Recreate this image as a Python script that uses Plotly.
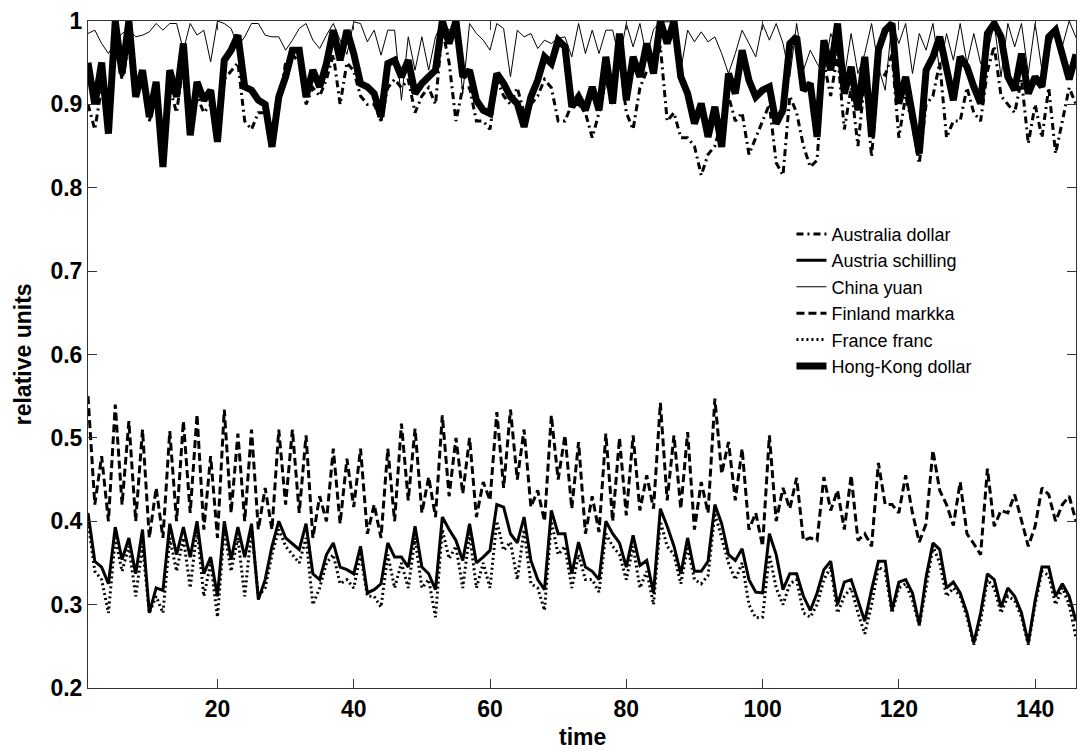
import plotly.graph_objects as go

time = list(range(1, 147))

australia_dollar = [
    0.90, 0.87, 0.92, 0.88, 0.97, 0.93, 0.97, 0.92, 0.93, 0.88,
    0.91, 0.85, 0.92, 0.89, 0.95, 0.87, 0.91, 0.89, 0.90, 0.86,
    0.93, 0.94, 0.95, 0.88, 0.87, 0.89, 0.89, 0.86, 0.90, 0.95,
    0.96, 0.95, 0.90, 0.92, 0.91, 0.93, 0.96, 0.90, 0.95, 0.94,
    0.91, 0.90, 0.90, 0.88, 0.92, 0.93, 0.92, 0.93, 0.89, 0.91,
    0.92, 0.90, 0.99, 0.95, 0.88, 0.92, 0.92, 0.88, 0.88, 0.87,
    0.93, 0.91, 0.90, 0.92, 0.89, 0.90, 0.91, 0.93, 0.92, 0.88,
    0.88, 0.90, 0.90, 0.89, 0.86, 0.89, 0.93, 0.90, 0.96, 0.89,
    0.87, 0.92, 0.94, 0.94, 0.97, 0.88, 0.89, 0.86, 0.86, 0.85,
    0.815, 0.84, 0.85, 0.88, 0.91, 0.88, 0.89, 0.84, 0.86, 0.88,
    0.90, 0.83, 0.815, 0.91, 0.89, 0.85, 0.825, 0.833, 0.95, 0.91,
    0.96, 0.87, 0.92, 0.85, 0.93, 0.837, 0.94, 0.935, 0.96, 0.86,
    0.91, 0.875, 0.829, 0.90, 0.91, 0.95, 0.86, 0.88, 0.88, 0.92,
    0.89, 0.88, 0.94, 0.97, 0.91, 0.90, 0.89, 0.93, 0.853, 0.90,
    0.86, 0.92, 0.841, 0.88, 0.92, 0.90,
]

austria_schilling = [
    0.41, 0.352, 0.345, 0.325, 0.393, 0.354, 0.38, 0.337, 0.39, 0.29,
    0.32, 0.317, 0.397, 0.36, 0.393, 0.357, 0.40, 0.337, 0.357, 0.31,
    0.40, 0.354, 0.393, 0.357, 0.397, 0.306, 0.33, 0.37, 0.40, 0.38,
    0.373, 0.366, 0.397, 0.337, 0.33, 0.36, 0.374, 0.345, 0.342, 0.337,
    0.37, 0.314, 0.318, 0.325, 0.374, 0.357, 0.357, 0.345, 0.394, 0.345,
    0.337, 0.318, 0.405, 0.39, 0.377, 0.353, 0.397, 0.35, 0.357, 0.365,
    0.42, 0.417, 0.385, 0.374, 0.405, 0.353, 0.33, 0.318, 0.413, 0.385,
    0.385, 0.337, 0.375, 0.345, 0.34, 0.33, 0.40, 0.385, 0.374, 0.345,
    0.383, 0.347, 0.353, 0.314, 0.415, 0.394, 0.37, 0.337, 0.38, 0.34,
    0.34, 0.352, 0.42, 0.397, 0.36, 0.353, 0.367, 0.33, 0.315, 0.314,
    0.385, 0.36, 0.318, 0.337, 0.337, 0.31, 0.293, 0.314, 0.342, 0.352,
    0.30, 0.327, 0.33, 0.305, 0.28, 0.318, 0.352, 0.352, 0.293, 0.327,
    0.33, 0.314, 0.276, 0.333, 0.374, 0.366, 0.32, 0.327, 0.314, 0.29,
    0.254, 0.29, 0.337, 0.33, 0.297, 0.32, 0.31, 0.29, 0.254, 0.305,
    0.345, 0.345, 0.31, 0.325, 0.31, 0.28,
]

china_yuan = [
    0.985, 0.989, 0.973, 0.961, 0.975, 0.985, 0.99, 0.981, 0.983, 0.987,
    0.997, 0.989, 0.997, 0.997, 0.965, 0.997, 0.983, 0.989, 0.951, 1.0,
    0.997, 0.991, 0.97, 0.981, 0.997, 0.997, 0.983, 0.981, 0.981, 0.965,
    0.977, 0.991, 0.997, 0.977, 0.967, 0.983, 0.997, 0.977, 0.96, 0.999,
    0.997, 0.975, 0.989, 0.959, 0.989, 0.989, 0.905, 0.981, 0.941, 0.981,
    0.941, 0.981, 0.999, 0.989, 0.999, 0.913, 0.997, 0.985, 0.977, 0.965,
    0.997, 0.991, 0.933, 0.989, 0.981, 0.985, 0.967, 0.977, 0.973, 0.979,
    0.981, 0.957, 0.997, 0.961, 0.989, 0.961, 0.989, 0.989, 0.953, 0.997,
    0.969, 0.997, 0.957, 0.99, 0.999, 0.999, 0.999, 0.941, 0.989, 0.975,
    0.987, 0.975, 0.981, 0.961, 0.937, 0.961, 0.989, 0.973, 0.957, 0.997,
    0.977, 0.997, 0.973, 0.933, 0.997, 0.941, 0.965, 0.949, 0.937, 0.985,
    0.965, 0.933, 0.985, 0.937, 0.961, 0.997, 0.945, 0.917, 0.999, 0.973,
    0.997, 0.937, 0.985, 0.965, 0.997, 0.941, 0.985, 0.953, 0.997, 0.949,
    0.985, 0.949, 0.961, 0.997, 0.933, 0.997, 0.969, 0.997, 0.937, 0.997,
    0.941, 0.965, 0.991, 0.97, 1.0, 0.98,
]

finland_markka = [
    0.55, 0.42, 0.478, 0.40, 0.54, 0.42, 0.52, 0.40, 0.51, 0.38,
    0.44, 0.38, 0.508, 0.40, 0.52, 0.41, 0.528, 0.39, 0.478, 0.38,
    0.534, 0.41, 0.505, 0.40, 0.51, 0.39, 0.44, 0.39, 0.51, 0.42,
    0.51, 0.41, 0.503, 0.38, 0.43, 0.40, 0.487, 0.397, 0.475, 0.417,
    0.487, 0.385, 0.42, 0.38, 0.487, 0.40, 0.517, 0.425, 0.511, 0.41,
    0.453, 0.405, 0.527, 0.43, 0.50, 0.433, 0.50, 0.405, 0.447, 0.425,
    0.531, 0.44, 0.534, 0.45, 0.51, 0.417, 0.437, 0.40, 0.527, 0.45,
    0.503, 0.415, 0.495, 0.385, 0.43, 0.387, 0.505, 0.40, 0.50, 0.407,
    0.503, 0.413, 0.455, 0.415, 0.542, 0.425, 0.503, 0.415, 0.507, 0.39,
    0.447, 0.41, 0.547, 0.457, 0.495, 0.425, 0.487, 0.39, 0.41, 0.37,
    0.503, 0.40, 0.44, 0.415, 0.452, 0.377, 0.38, 0.377, 0.453, 0.413,
    0.437, 0.39, 0.455, 0.377, 0.385, 0.37, 0.47, 0.42, 0.42, 0.41,
    0.455, 0.41, 0.375, 0.397, 0.485, 0.437, 0.42, 0.395, 0.447, 0.385,
    0.373, 0.36, 0.463, 0.394, 0.413, 0.41, 0.432, 0.40, 0.37, 0.394,
    0.44, 0.432, 0.40, 0.42, 0.43, 0.40,
]

france_franc = [
    0.40, 0.34, 0.33, 0.29, 0.38, 0.34, 0.37, 0.31, 0.37, 0.29,
    0.31, 0.29, 0.38, 0.34, 0.38, 0.32, 0.39, 0.31, 0.35, 0.285,
    0.39, 0.34, 0.38, 0.31, 0.39, 0.31, 0.32, 0.36, 0.39, 0.37,
    0.36, 0.35, 0.38, 0.30, 0.32, 0.35, 0.36, 0.325, 0.33, 0.32,
    0.36, 0.31, 0.31, 0.297, 0.36, 0.32, 0.35, 0.32, 0.38, 0.32,
    0.33, 0.285, 0.39, 0.355, 0.37, 0.32, 0.385, 0.32, 0.35, 0.32,
    0.40, 0.365, 0.375, 0.33, 0.39, 0.325, 0.32, 0.293, 0.40, 0.36,
    0.37, 0.32, 0.36, 0.33, 0.33, 0.315, 0.385, 0.37, 0.36, 0.33,
    0.37, 0.32, 0.34, 0.30, 0.40, 0.37, 0.36, 0.325, 0.37, 0.33,
    0.325, 0.335, 0.41, 0.38, 0.35, 0.33, 0.35, 0.30, 0.284, 0.285,
    0.36, 0.32, 0.30, 0.325, 0.33, 0.29, 0.285, 0.30, 0.33, 0.345,
    0.29, 0.31, 0.32, 0.29, 0.265, 0.30, 0.345, 0.34, 0.29, 0.32,
    0.325, 0.305, 0.275, 0.32, 0.37, 0.35, 0.31, 0.32, 0.31, 0.285,
    0.252, 0.28, 0.33, 0.32, 0.29, 0.31, 0.305, 0.285, 0.252, 0.30,
    0.34, 0.335, 0.30, 0.32, 0.30, 0.26,
]

hong_kong_dollar = [
    0.95, 0.90, 0.95, 0.865, 1.0, 0.937, 1.0, 0.909, 0.941, 0.885,
    0.927, 0.825, 0.941, 0.909, 0.973, 0.863, 0.927, 0.905, 0.917, 0.855,
    0.953, 0.965, 0.983, 0.921, 0.917, 0.905, 0.90, 0.849, 0.909, 0.933,
    0.965, 0.965, 0.909, 0.941, 0.921, 0.949, 0.989, 0.953, 0.989, 0.961,
    0.925, 0.921, 0.913, 0.885, 0.949, 0.953, 0.933, 0.953, 0.913, 0.925,
    0.933, 0.941, 1.0, 0.973, 1.0, 0.933, 0.941, 0.905, 0.893, 0.889,
    0.937, 0.925, 0.909, 0.901, 0.873, 0.909, 0.929, 0.957, 0.949, 0.977,
    0.969, 0.897, 0.909, 0.893, 0.921, 0.893, 0.957, 0.901, 0.985, 0.905,
    0.957, 0.933, 0.973, 0.937, 1.0, 0.973, 1.0, 0.933, 0.913, 0.877,
    0.901, 0.861, 0.897, 0.849, 0.937, 0.913, 0.965, 0.929, 0.909, 0.917,
    0.921, 0.877, 0.893, 0.973, 0.981, 0.917, 0.925, 0.861, 0.977, 0.941,
    0.997, 0.913, 0.945, 0.893, 0.957, 0.861, 0.965, 0.989, 0.997, 0.901,
    0.933, 0.889, 0.841, 0.941, 0.957, 0.981, 0.941, 0.905, 0.957, 0.945,
    0.921, 0.901, 0.985, 0.997, 0.981, 0.933, 0.917, 0.961, 0.913, 0.933,
    0.921, 0.981, 0.989, 0.96, 0.93, 0.96,
]

x_ticks = [20, 40, 60, 80, 100, 120, 140]
y_ticks = [0.2, 0.3, 0.4, 0.5, 0.6, 0.7, 0.8, 0.9, 1.0]
y_tick_labels = ["0.2", "0.3", "0.4", "0.5", "0.6", "0.7", "0.8", "0.9", "1"]

series = [
    ("Australia dollar", australia_dollar, 3, "7px,4px,2px,4px"),
    ("Austria schilling", austria_schilling, 3, "solid"),
    ("China yuan", china_yuan, 1, "solid"),
    ("Finland markka", finland_markka, 3, "8px,4px"),
    ("France franc", france_franc, 3, "2px,3px"),
    ("Hong-Kong dollar", hong_kong_dollar, 7, "solid"),
]

FONT = "Liberation Sans, Arial, sans-serif"

fig = go.Figure()
for name, vals, w, dash in series:
    fig.add_trace(go.Scatter(
        x=time, y=vals, mode="lines", name=name,
        line=dict(color="black", width=w, dash=dash),
    ))

axis_common = dict(
    showgrid=False, zeroline=False, showline=True, linecolor="#333333",
    linewidth=1, mirror="ticks", ticks="inside", ticklen=9, tickcolor="#333333",
    tickfont=dict(family=FONT, size=23, color="black"),
)

fig.update_xaxes(range=[1, 146], tickvals=x_ticks,
                 ticktext=["<b>%d</b>" % t for t in x_ticks], **axis_common)
fig.update_yaxes(range=[0.2, 1.0], tickvals=y_ticks,
                 ticktext=["<b>%s</b>" % t for t in y_tick_labels], **axis_common)

fig.update_layout(
    width=1080, height=751,
    margin=dict(l=88, r=4, t=21, b=63),
    plot_bgcolor="white", paper_bgcolor="white",
    font=dict(family=FONT, color="black"),
    showlegend=True,
    legend=dict(
        x=0.712, y=0.708, xanchor="left", yanchor="top",
        bgcolor="rgba(0,0,0,0)", borderwidth=0,
        font=dict(size=18, family=FONT),
        tracegroupgap=0,
    ),
    annotations=[
        dict(text="<b>time</b>", xref="paper", yref="paper", x=0.5, y=-0.073,
             xanchor="center", yanchor="middle", showarrow=False,
             font=dict(size=23)),
        dict(text="<b>relative units</b>", xref="paper", yref="paper", x=-0.066, y=0.5,
             xanchor="center", yanchor="middle", showarrow=False, textangle=-90,
             font=dict(size=23)),
    ],
)

fig.write_html("out.html")
